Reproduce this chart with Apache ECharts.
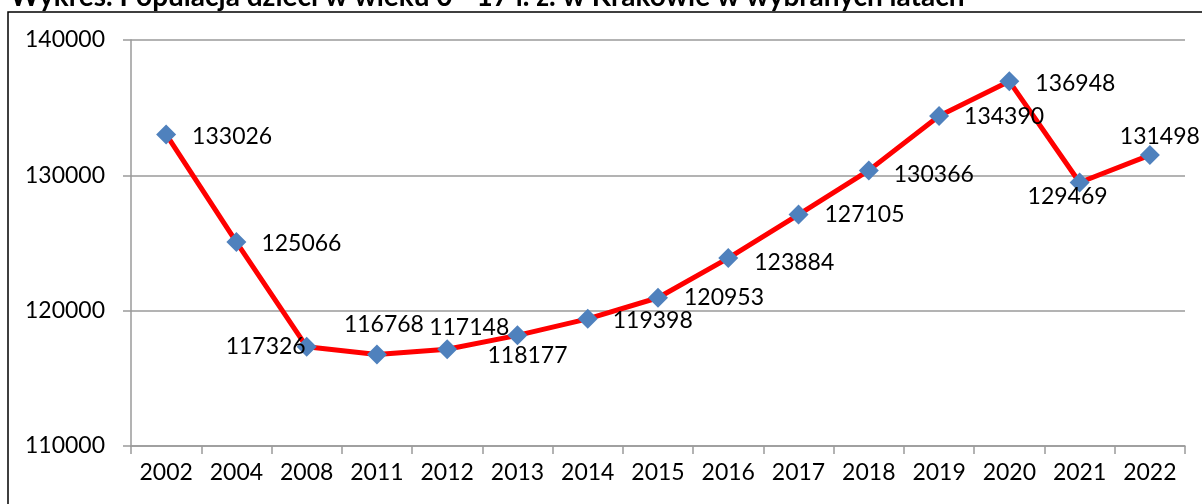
<!DOCTYPE html>
<html>
<head>
<meta charset="utf-8">
<script src="https://cdn.jsdelivr.net/npm/echarts@6/dist/echarts.min.js"></script>
<style>
html,body{margin:0;padding:0;background:#fff;}
#chart{width:1202px;height:504px;}
</style>
</head>
<body>
<div id="chart"></div>
<script>
const titleText = 'Wykres. Populacja dzieci w wieku 0 - 17 l. ż. w Krakowie w wybranych latach';
const years = ['2002','2004','2008','2011','2012','2013','2014','2015','2016','2017','2018','2019','2020','2021','2022'];
const population = [133026,125066,117326,116768,117148,118177,119398,120953,123884,127105,130366,134390,136948,129469,131498];
const yTicks = [110000,120000,130000,140000];

// label placement (style only): offset of label centre from point centre
const labelOffsets = [[66,2],[65,1],[-41,0],[7,-30],[22,-22],[10,20],[65,2],[66,0],[66,4],[66,0],[65,4],[65,1],[66,2],[-12,14],[10,-18]];

const FONT = 'Lato';
const chart = echarts.init(document.getElementById('chart'));
chart.setOption({
  backgroundColor: '#fff',
  animation: false,
  textStyle: { fontFamily: FONT },
  graphic: [
    { type: 'rect', z: -1, shape: { x: 8, y: 12, width: 1400, height: 700 },
      style: { fill: 'none', stroke: '#000', lineWidth: 1.5 } },
    { type: 'text', left: 10, top: -17,
      style: { text: titleText, font: 'bold 28px ' + FONT, fill: '#000' } }
  ],
  grid: { left: 131, right: 17, top: 40, bottom: 58 },
  xAxis: {
    type: 'category',
    data: years,
    boundaryGap: true,
    axisLine: { lineStyle: { color: '#9a9a9a', width: 1.5 } },
    axisTick: { show: true, length: 8, interval: 0, lineStyle: { color: '#9a9a9a', width: 1.5 } },
    axisLabel: { color: '#000', fontSize: 23, margin: 15, fontFamily: FONT, interval: 0 }
  },
  yAxis: {
    type: 'value',
    min: yTicks[0],
    max: yTicks[yTicks.length - 1],
    interval: 10000,
    axisLine: { show: true, lineStyle: { color: '#9a9a9a', width: 1.5 } },
    axisTick: { show: true, length: 8, lineStyle: { color: '#9a9a9a', width: 1.5 } },
    splitLine: { show: true, lineStyle: { color: '#9a9a9a', width: 1.5 } },
    axisLabel: { color: '#000', fontSize: 23, margin: 26, fontFamily: FONT, formatter: v => String(v) }
  },
  series: [{
    type: 'line',
    data: population,
    lineStyle: { color: '#ff0000', width: 5 },
    symbol: 'diamond',
    symbolSize: 20,
    itemStyle: { color: '#4F81BD', borderWidth: 0 },
    z: 3,
    label: {
      show: true,
      position: 'inside',
      align: 'center',
      verticalAlign: 'middle',
      color: '#000',
      fontSize: 23,
      fontFamily: FONT,
      formatter: p => String(p.value)
    },
    labelLayout: p => ({ dx: labelOffsets[p.dataIndex][0], dy: labelOffsets[p.dataIndex][1], hideOverlap: false })
  }]
});
</script>
</body>
</html>
